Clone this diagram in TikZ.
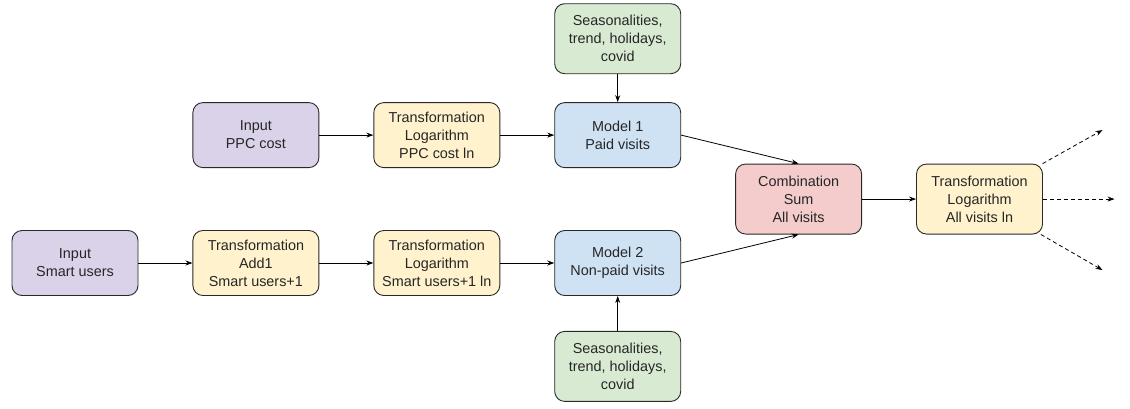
\documentclass[tikz,border=0pt]{standalone}
\usepackage{fontspec}
\setmainfont{Liberation Sans}
\usepackage{xcolor}
\usetikzlibrary{arrows.meta,positioning,calc}
\definecolor{inpurple}{RGB}{217,210,233}
\definecolor{trfyellow}{RGB}{255,242,204}
\definecolor{modblue}{RGB}{207,226,243}
\definecolor{seagreen}{RGB}{217,234,211}
\definecolor{combred}{RGB}{244,204,204}
\definecolor{edgegray}{RGB}{40,40,40}

\begin{document}
\begin{tikzpicture}[
  x=1pt, y=1pt,
  node distance = 54pt,
  box/.style = {
    rectangle, draw=edgegray, line width=0.9pt,
    rounded corners=10pt, minimum width=126pt,
    minimum height=65pt, align=center, text=black!85,
    font=\fontsize{14.4}{18}\selectfont
  },
  inbox/.style   = {box, fill=inpurple},
  trfbox/.style  = {box, fill=trfyellow},
  modbox/.style  = {box, fill=modblue},
  seabox/.style  = {box, fill=seagreen, minimum height=70pt},
  combbox/.style = {box, fill=combred, minimum height=70pt},
  arr/.style  = {-{Stealth[length=7pt,width=5pt]}, line width=0.8pt, black},
  darr/.style = {arr, dash pattern=on 4pt off 3pt}
]
  \useasboundingbox (0,0) rectangle (1130,-408);

  % lower row
  \node[inbox] (usr) at (75,-263) {Input\\Smart users};
  \node[trfbox, right=of usr] (add)  {Transformation\\Add1\\Smart users+1};
  \node[trfbox, right=of add] (lnusr) {Transformation\\Logarithm\\Smart users+1 ln};
  \node[modbox, right=of lnusr] (mod2) {Model 2\\Non-paid visits};
  \node[seabox, below=35pt of mod2] (sea2) {Seasonalities,\\trend, holidays,\\covid};

  % upper row
  \node[inbox, above=62pt of add] (ppc)  {Input\\PPC cost};
  \node[trfbox, right=of ppc] (lnppc) {Transformation\\Logarithm\\PPC cost ln};
  \node[modbox, right=of lnppc] (mod1) {Model 1\\Paid visits};
  \node[seabox, above=28pt of mod1] (sea1) {Seasonalities,\\trend, holidays,\\covid};

  % combination and output
  \node[combbox, right=54pt of {$(mod1.east)!0.5!(mod2.east)$}] (comb) {Combination\\Sum\\All visits};
  \node[combbox, fill=trfyellow, right=of comb] (lnall) {Transformation\\Logarithm\\All visits ln};
  \coordinate (out1) at ($(lnall.center)+(123,69)$);
  \coordinate (out2) at ($(lnall.center)+(135,0)$);
  \coordinate (out3) at ($(lnall.center)+(123,-71)$);

  \draw[arr] (usr)   -- (add);
  \draw[arr] (add)   -- (lnusr);
  \draw[arr] (lnusr) -- (mod2);
  \draw[arr] (ppc)   -- (lnppc);
  \draw[arr] (lnppc) -- (mod1);
  \draw[arr] (sea1)  -- (mod1);
  \draw[arr] (sea2)  -- (mod2);
  \draw[arr] (mod1.east) -- (comb.north);
  \draw[arr] (mod2.east) -- (comb.south);
  \draw[arr] (comb)  -- (lnall);
  \draw[darr] (lnall) -- (out1);
  \draw[darr] (lnall) -- (out2);
  \draw[darr] (lnall) -- (out3);
\end{tikzpicture}
\end{document}
